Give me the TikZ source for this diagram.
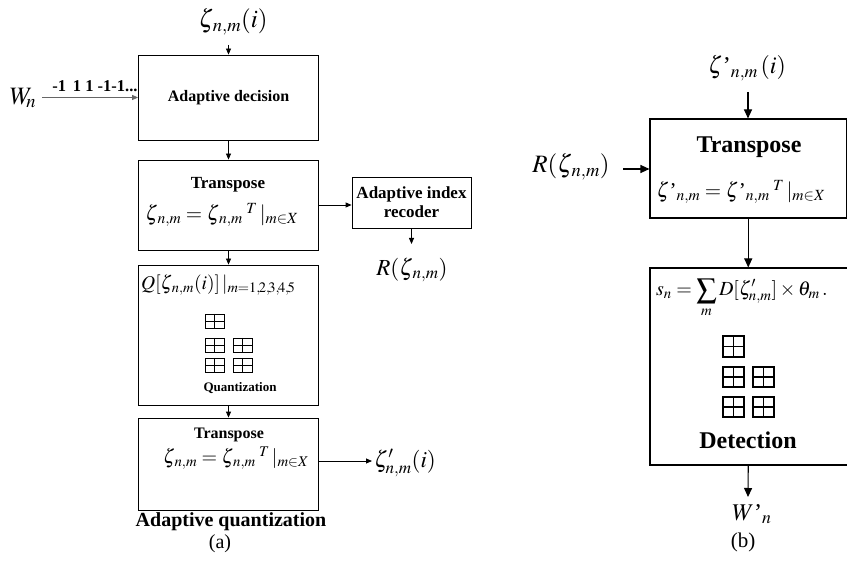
\documentclass[tikz,border=0pt]{standalone}
\usepackage{mathptmx}
\usepackage{fontspec}
\setmainfont{Liberation Serif}
\usetikzlibrary{arrows.meta}

% small 2x2 cell glyph: top-left corner, width, height
\newcommand{\cellicon}[4]{%
  \draw[icon] (#1,#2) rectangle ++(#3,#4);
  \draw[icon] (#1+#3/2,#2) -- ++(0,#4);
  \draw[icon] (#1,#2+#4/2) -- ++(#3,0);}

\begin{document}
\begin{tikzpicture}[x=1pt,y=-1pt,
  box/.style={draw, line width=0.8pt, inner sep=0pt},
  bigbox/.style={draw, line width=1.1pt, inner sep=0pt},
  arr/.style={-{Triangle[length=6pt,width=5pt]}, line width=0.8pt},
  bigarr/.style={-{Triangle[length=9pt,width=8pt]}, line width=1.1pt},
  lbl/.style={inner sep=0pt},
  icon/.style={line width=0.8pt}]
\useasboundingbox (0,0) rectangle (847,564);

% ---------------- (a) adaptive quantization ----------------
\node[lbl, font=\fontsize{25}{27}\selectfont] (zin) at (233,22) {$\zeta_{\,n,m}(i)$};
\coordinate (zinend) at (228.5,45);

\node[box, minimum width=180pt, minimum height=85pt,
      font=\bfseries\fontsize{16}{18}\selectfont] (adec) at (228.5,97.5) {Adaptive decision};

\node[lbl, font=\fontsize{25}{27}\selectfont] (wn) at (23,98) {$W_{\!n}$};
\coordinate (wnend) at (42,97.5);
\node[lbl, font=\bfseries\fontsize{16.5}{18}\selectfont] (bits) at (95,86) {-1\,\ 1 1 -1-1...};

\node[box, minimum width=180pt, minimum height=90pt] (tr1) at (228.5,205) {};
\node[lbl, font=\bfseries\fontsize{17}{19}\selectfont] (tr1t) at (228,185) {Transpose};
\node[lbl, font=\fontsize{21}{23}\selectfont] (tr1f) at (222,215)
  {$\zeta_{\,n,m}=\zeta_{\,n,m}{}^{\;T}\,|_{m\in X}$};

\node[box, minimum width=119pt, minimum height=51pt, align=center,
      font=\bfseries\fontsize{17}{19}\selectfont] (rec) at (411.5,202.5)
  {Adaptive index\\recoder};
\coordinate (recend) at (411.5,244);
\node[lbl, font=\fontsize{23}{25}\selectfont] (rz) at (412,270) {$R(\zeta_{\,n,m})$};

\node[box, minimum width=180pt, minimum height=140pt] (quant) at (228.5,335) {};
\node[lbl, font=\fontsize{19.5}{22}\selectfont, anchor=west] (qf) at (141,285)
  {$Q[\zeta_{\,n,m}(i)]\,|_{m=1,\!2,\!3,\!4,\!5}$};
\node[lbl, font=\bfseries\fontsize{13}{15}\selectfont] (qt) at (240,388) {Quantization};

\node[box, minimum width=180pt, minimum height=92pt] (tr2) at (228.5,464) {};
\node[lbl, font=\bfseries\fontsize{16}{18}\selectfont] (tr2t) at (229,435) {Transpose};
\node[lbl, font=\fontsize{20}{22}\selectfont] (tr2f) at (236,458)
  {$\zeta_{\,n,m}=\zeta_{\,n,m}{}^{\;T}\,|_{m\in X}$};
\coordinate (tr2end) at (372,461);
\node[lbl, font=\fontsize{23}{25}\selectfont, anchor=west] (zout) at (374,463) {$\zeta'_{n,m}(i)$};

\node[lbl, font=\bfseries\fontsize{20}{22}\selectfont] (capa) at (231,522) {Adaptive quantization};
\node[lbl, font=\fontsize{20}{22}\selectfont] (laba) at (220,544) {(a)};

% cell glyphs inside the quantization block
\cellicon{205}{314}{19}{14}
\cellicon{205}{338}{19}{14}
\cellicon{233}{338}{19}{14}
\cellicon{205}{358}{19}{14}
\cellicon{233}{358}{19}{14}

% connectors (a)
\draw[arr] (zinend) -- (adec.north);
\draw[arr, draw=black!60, fill=black!60] (wnend) -- (wnend -| adec.west);
\draw[arr] (adec.south) -- (tr1.north);
\draw[arr] (tr1.east) -- (tr1.east -| rec.west);
\draw[arr] (rec.south) -- (recend);
\draw[arr] (tr1.south) -- (quant.north);
\draw[arr] (quant.south) -- (tr2.north);
\draw[arr] (tr2.east |- tr2end) -- (tr2end);

% ---------------- (b) detection ----------------
\node[lbl, font=\fontsize{24}{26}\selectfont] (zin2) at (747,68) {$\zeta\mbox{'}_{n,m}\,(i)$};
\coordinate (zin2end) at (748,92);

\node[bigbox, minimum width=196.5pt, minimum height=99pt] (tr3) at (748.25,168.5) {};
\node[lbl, font=\bfseries\fontsize{24}{26}\selectfont] (tr3t) at (749,147) {Transpose};
\node[lbl, font=\fontsize{21}{23}\selectfont] (tr3f) at (741,192)
  {$\zeta\mbox{'}_{n,m}=\zeta\mbox{'}_{n,m}{}^{\;T}\,|_{m\in X}$};

\node[lbl, font=\fontsize{25}{27}\selectfont] (rz2) at (571,167) {$R(\zeta_{\,n,m})$};
\coordinate (rz2end) at (623,169);

\node[bigbox, minimum width=200pt, minimum height=197pt] (det) at (750,366.5) {};
\node[lbl, font=\fontsize{20}{22}\selectfont, anchor=west] (sf) at (656,298)
  {$\displaystyle s_n=\sum_m D[\zeta'_{n,m}]\times\theta_m\,.$};
\node[lbl, font=\bfseries\fontsize{24}{26}\selectfont] (dt) at (748,440) {Detection};
\coordinate (detend) at (748,497);
\node[lbl, font=\fontsize{24}{26}\selectfont] (wout) at (752,514) {$W\mbox{'}_{n}$};
\node[lbl, font=\fontsize{21}{23}\selectfont] (labb) at (743,542) {(b)};

% cell glyphs inside the detection block
\begin{scope}[icon/.style={line width=1.1pt}]
\cellicon{723}{336}{21}{21}
\cellicon{723}{367}{21}{20}
\cellicon{753}{367}{21}{20}
\cellicon{723}{397}{21}{20}
\cellicon{753}{397}{21}{20}
\end{scope}

% connectors (b)
\draw[bigarr] (zin2end) -- (zin2end |- tr3.north);
\draw[bigarr] (rz2end) -- (rz2end -| tr3.west);
\draw[bigarr] (tr3.south) -- (tr3.south |- det.north);
\draw[bigarr] (tr3.south |- det.south) -- (detend);
\end{tikzpicture}
\end{document}
